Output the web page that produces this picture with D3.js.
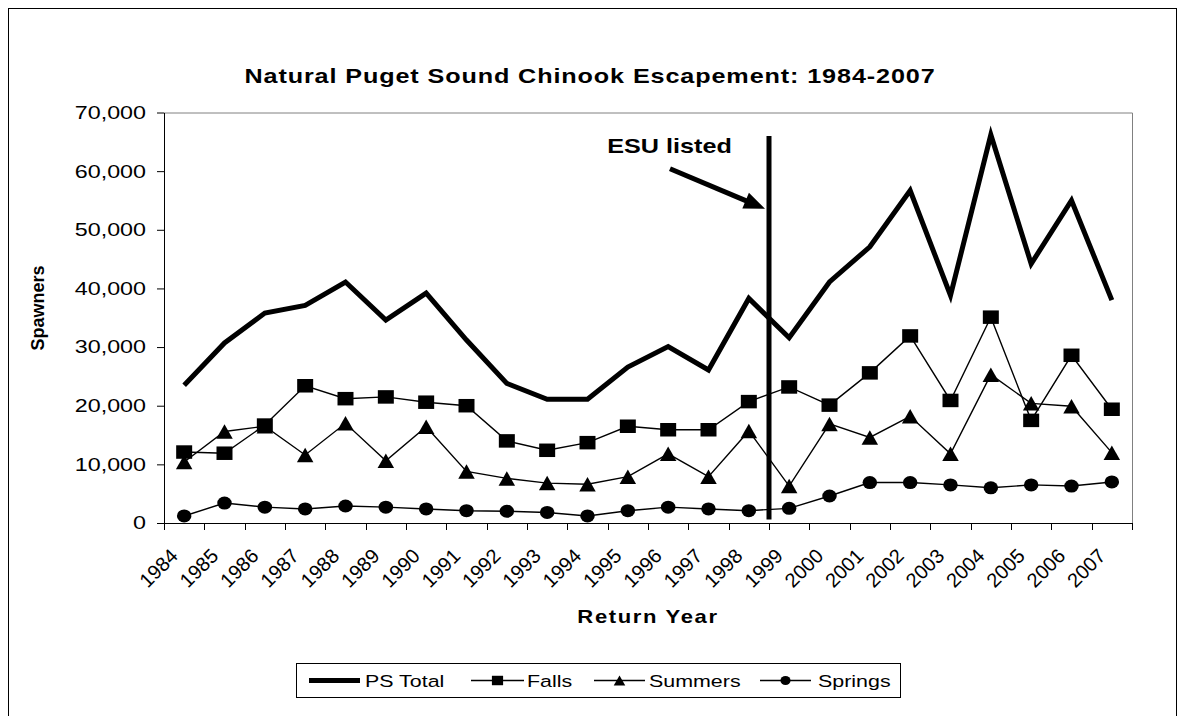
<!DOCTYPE html>
<html>
<head>
<meta charset="utf-8">
<script src="https://cdn.jsdelivr.net/npm/d3@7"></script>
<style>
  body { margin: 0; background: #fff; }
  svg { display: block; font-family: Arial, "Liberation Sans", sans-serif; }
</style>
</head>
<body>
<div id="chart"></div>
<script>
// return years (categories)
const years = ["1984","1985","1986","1987","1988","1989","1990","1991","1992","1993","1994","1995",
               "1996","1997","1998","1999","2000","2001","2002","2003","2004","2005","2006","2007"];
// spawners
const psTotal = [23500,30700,35800,37100,41100,34600,39200,31200,23800,21100,21100,26600,
                 30100,26100,38300,31600,41100,47100,56700,38800,66200,44200,55000,38000];
const falls   = [12100,11900,16700,23400,21200,21500,20600,20000,14000,12400,13700,16500,
                 15900,15900,20700,23200,20100,25600,31900,20900,35100,17500,28600,19400];
const summers = [10400,15600,16500,11600,17000,10600,16400,8800,7600,6800,6600,7900,
                 11800,7900,15700,6300,16900,14600,18200,11800,25300,20400,19900,12000];
const springs = [1200,3400,2700,2400,2900,2700,2400,2100,2000,1800,1200,2100,
                 2700,2400,2100,2500,4600,6900,6900,6500,6000,6500,6300,7000];
const yTicks = [0,10000,20000,30000,40000,50000,60000,70000];
const listedYear = "1999";

const W = 1185, H = 716;
const k = 1.26; // the original export is stretched sideways, text looks wide

const svg = d3.select("#chart").append("svg")
    .attr("width", W)
    .attr("height", H);

// chart frame
svg.append("rect")
    .attr("x", 8.5).attr("y", 8.5)
    .attr("width", 1168).attr("height", 730)
    .attr("fill", "none").attr("stroke", "#000");

const x = d3.scaleBand().domain(years).range([164, 1132]);
const y = d3.scaleLinear().domain([0, 70000]).range([523, 112.5]);
const cx = d => x(d) + x.bandwidth() / 2;

// text helper: stretched like the original
function wideText(parent, str, px, py, size, bold, anchor, spacing) {
    return parent.append("text")
        .attr("transform", `translate(${px},${py}) scale(${k},1)`)
        .attr("text-anchor", anchor || "middle")
        .style("font-size", size + "px")
        .style("font-weight", bold ? "bold" : "normal")
        .style("letter-spacing", (spacing || 0) + "px")
        .attr("fill", "#000")
        .text(str);
}

// title
wideText(svg, "Natural Puget Sound Chinook Escapement: 1984-2007", 590, 83, 20, true, "middle", 0.7);

// plot area border (top / right)
svg.append("path")
    .attr("d", `M164,${y(70000) + 0.5}H${1132 + 0.5}V${y(0)}`)
    .attr("fill", "none").attr("stroke", "#808080");

// y axis
const yAxis = svg.append("g")
    .attr("transform", "translate(164,0)")
    .call(d3.axisLeft(y).tickValues(yTicks).tickFormat(d3.format(",")).tickSize(7).tickSizeOuter(0));
yAxis.attr("font-size", null).attr("font-family", null);
yAxis.select(".domain").attr("stroke", "#000");
yAxis.selectAll(".tick line").attr("stroke", "#000");
yAxis.selectAll(".tick text")
    .attr("x", null)
    .attr("transform", `translate(-18,0) scale(${k},1)`)
    .attr("fill", "#000")
    .style("font-size", "18.5px");

// x axis, ticks between categories
const xAxis = svg.append("g").attr("class", "xaxis");
xAxis.append("line")
    .attr("x1", 164).attr("x2", 1132)
    .attr("y1", y(0) + 0.5).attr("y2", y(0) + 0.5)
    .attr("stroke", "#000");
const bounds = years.map(d => x(d)).concat([x.range()[1]]);
xAxis.selectAll("line.tick")
    .data(bounds)
    .join("line")
    .attr("class", "tick")
    .attr("x1", d => Math.round(d) + 0.5).attr("x2", d => Math.round(d) + 0.5)
    .attr("y1", y(0)).attr("y2", y(0) + 7)
    .attr("stroke", "#000");
xAxis.selectAll("text")
    .data(years)
    .join("text")
    .attr("transform", d => `translate(${x(d) + 5},547) rotate(-45)`)
    .attr("text-anchor", "end")
    .attr("dy", "0.72em")
    .style("font-size", "20px")
    .attr("fill", "#000")
    .text(d => d);

// axis titles
wideText(svg, "Return Year", 648, 623, 17.5, true, "middle", 1.3);
svg.append("text")
    .attr("transform", "translate(44,308) rotate(-90)")
    .attr("text-anchor", "middle")
    .style("font-size", "18px")
    .style("font-weight", "bold")
    .text("Spawners");

// markers (screen px)
const markers = {
    square:   (w, h) => `M${-w/2},${-h/2}h${w}v${h}h${-w}Z`,
    triangle: (w, h) => `M0,${-h/2}L${w/2},${h/2}L${-w/2},${h/2}Z`,
    circle:   (w, h) => `M${-w/2},0a${w/2},${h/2} 0 1,0 ${w},0a${w/2},${h/2} 0 1,0 ${-w},0Z`
};

const series = [
    { name: "PS Total", values: psTotal, width: 5,   marker: null },
    { name: "Falls",    values: falls,   width: 1.4, marker: "square",   mw: 16,   mh: 13.5 },
    { name: "Summers",  values: summers, width: 1.4, marker: "triangle", mw: 16.5, mh: 14.5 },
    { name: "Springs",  values: springs, width: 1.4, marker: "circle",   mw: 14.5, mh: 13 }
];

const line = d3.line()
    .x((v, i) => cx(years[i]))
    .y(v => y(v));

// draw thin series first, thick total on top of them
const order = [series[3], series[2], series[1], series[0]];
order.forEach(s => {
    svg.append("path")
        .datum(s.values)
        .attr("d", line)
        .attr("fill", "none")
        .attr("stroke", "#000")
        .attr("stroke-width", s.width)
        .attr("stroke-linejoin", "miter");
    if (s.marker) {
        svg.append("g").selectAll("path")
            .data(s.values)
            .join("path")
            .attr("transform", (v, i) => `translate(${cx(years[i])},${y(v)})`)
            .attr("d", markers[s.marker](s.mw, s.mh))
            .attr("fill", "#000");
    }
});

// ESU listing: vertical line + arrow + label
const lx = x(listedYear);
svg.append("line")
    .attr("x1", lx).attr("x2", lx)
    .attr("y1", y(66000)).attr("y2", y(600))
    .attr("stroke", "#000").attr("stroke-width", 5);

const tip = [lx - 4, y(53600)];
const tail = [tip[0] - 95, y(60400)];
const dx = tip[0] - tail[0], dy = tip[1] - tail[1];
const len = Math.hypot(dx, dy), ux = dx / len, uy = dy / len;
const headL = 21, headW = 8.5;
const base = [tip[0] - ux * headL, tip[1] - uy * headL];
svg.append("line")
    .attr("x1", tail[0]).attr("y1", tail[1])
    .attr("x2", base[0] + ux * 2).attr("y2", base[1] + uy * 2)
    .attr("stroke", "#000").attr("stroke-width", 5);
svg.append("path")
    .attr("d", `M${tip[0]},${tip[1]}L${base[0] - uy * headW},${base[1] + ux * headW}L${base[0] + uy * headW},${base[1] - ux * headW}Z`)
    .attr("fill", "#000");
wideText(svg, "ESU listed", 669.5, 153, 20, true, "middle", 0);

// legend
const legend = svg.append("g");
legend.append("rect")
    .attr("x", 296.5).attr("y", 663.5)
    .attr("width", 604).attr("height", 34)
    .attr("fill", "#fff").attr("stroke", "#000");
const legendPos = [
    { x0: 309, x1: 360, tx: 365 },
    { x0: 471, x1: 524, tx: 527 },
    { x0: 594, x1: 645, tx: 649 },
    { x0: 760, x1: 811, tx: 818 }
];
const ly = 680.5;
series.forEach((s, i) => {
    const p = legendPos[i];
    legend.append("line")
        .attr("x1", p.x0).attr("x2", p.x1)
        .attr("y1", ly).attr("y2", ly)
        .attr("stroke", "#000")
        .attr("stroke-width", s.marker ? 1.4 : 5);
    if (s.marker) {
        legend.append("path")
            .attr("transform", `translate(${(p.x0 + p.x1) / 2},${ly})`)
            .attr("d", markers[s.marker](s.mw * 0.7, s.mh * 0.7))
            .attr("fill", "#000");
    }
    wideText(legend, s.name, p.tx, ly + 6, 17, false, "start", 0);
});
</script>
</body>
</html>
